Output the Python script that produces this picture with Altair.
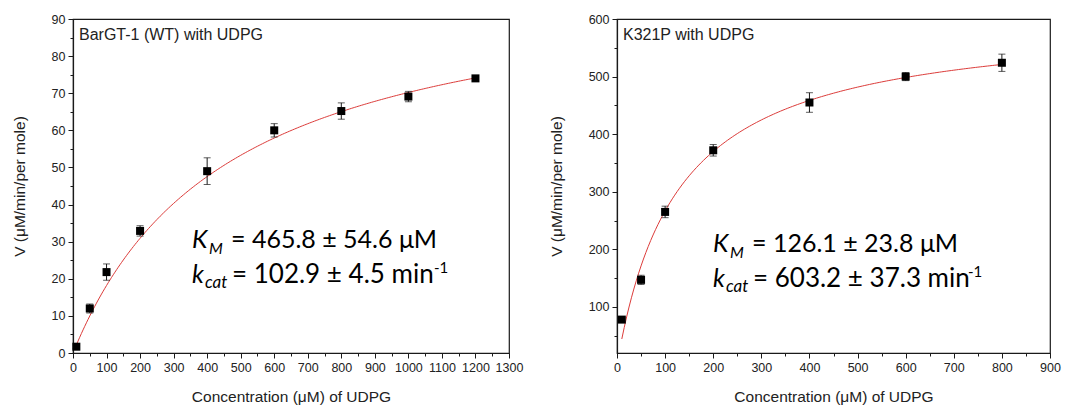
import altair as alt
import pandas as pd

# ---------------- data ----------------
WT_CONC = [10, 50, 100, 200, 400, 600, 800, 1000, 1200]
WT_V = [1.7, 12.0, 21.8, 32.9, 49.0, 60.0, 65.2, 69.1, 74.0]
WT_ERR = [0.5, 1.2, 2.2, 1.4, 3.6, 1.8, 2.2, 1.4, 0.5]

MUT_CONC = [10, 50, 100, 200, 400, 600, 800]
MUT_V = [78, 147, 265, 372, 455, 500, 524]
MUT_ERR = [3, 8, 10, 10, 17, 7, 15]

# Michaelis-Menten fit parameters printed on the chart
WT_KM, WT_VMAX = 465.8, 102.9
MUT_KM, MUT_VMAX = 126.1, 603.2

WT_X_TICKS = list(range(0, 1301, 50))
WT_Y_TICKS = list(range(0, 91, 5))
MUT_X_TICKS = list(range(0, 901, 50))
MUT_Y_TICKS = list(range(50, 601, 50))

WT_LABEL = "BarGT-1 (WT) with UDPG"
MUT_LABEL = "K321P with UDPG"
WT_ANN = ["= 465.8 \u00b1 54.6 \u03bcM", "= 102.9 \u00b1 4.5 min"]
MUT_ANN = ["= 126.1 \u00b1 23.8 \u03bcM", "= 603.2 \u00b1 37.3 min"]

X_TITLE = "Concentration (\u03bcM) of UDPG"
Y_TITLE = "V (\u03bcM/min/per mole)"

H = 334
AX_FONT = "Liberation Sans"
ANN_FONT = "Lato"
INK = "#1a1a1a"
FIT_RED = "#dc3c3a"


def make_axis(values, major, title, title_pad):
    test = f"datum.value % {major} === 0"
    return alt.Axis(
        values=values,
        format="d",
        labelExpr=f"{test} ? datum.label : ''",
        tickSize={"condition": {"test": test, "value": 5}, "value": 3},
        labelFlush=False,
        labelOverlap=False,
        grid=False,
        title=title,
        titlePadding=title_pad,
        labelFont=AX_FONT,
        labelFontSize=12.5,
        labelColor="#222",
        labelPadding=3,
        titleFont=AX_FONT,
        titleFontSize=15.5,
        titleFontWeight="normal",
        titleColor="#222",
        domainColor=INK,
        tickColor=INK,
        domainWidth=1.2,
        tickWidth=1,
    )


def panel(conc, v, err, km, vmax, xdom, ydom, xticks, yticks, ymajor,
          label, ann, ann_x, ann_y, sup_dx, width):
    df = pd.DataFrame({"c": conc, "v": v, "e": err})
    xs = alt.Scale(domain=xdom, nice=False, zero=False)
    ys = alt.Scale(domain=ydom, nice=False, zero=False)
    xax = make_axis(xticks, 100, X_TITLE, 16)
    yax = make_axis(yticks, ymajor, Y_TITLE, 24)

    def X(f):
        return alt.X(f, type="quantitative", scale=xs, axis=xax)

    def Y(f):
        return alt.Y(f, type="quantitative", scale=ys, axis=yax)

    base = alt.Chart(df).transform_calculate(
        lo="datum.v - datum.e", hi="datum.v + datum.e")

    fit = alt.Chart(alt.sequence(conc[0], conc[-1] + 1, 5, as_="c")).transform_calculate(
        v=f"{vmax} * datum.c / ({km} + datum.c)"
    ).mark_line(color=FIT_RED, strokeWidth=1, clip=True).encode(x=X("c"), y=Y("v"))

    stem = base.mark_rule(color=INK, strokeWidth=1).encode(
        x=X("c"), y=Y("lo"), y2="hi:Q")
    cap_lo = base.mark_tick(color=INK, orient="horizontal", size=7, thickness=1).encode(
        x=X("c"), y=Y("lo"))
    cap_hi = base.mark_tick(color=INK, orient="horizontal", size=7, thickness=1).encode(
        x=X("c"), y=Y("hi"))
    pts = base.mark_square(color="#000", opacity=1, size=64).encode(
        x=X("c"), y=Y("v"))

    one = alt.Data(values=[{}])
    lab = alt.Chart(one).mark_text(
        text=label, align="left", baseline="alphabetic", font=AX_FONT,
        fontSize=16, color="#222").encode(x=alt.value(6), y=alt.value(21))

    def t(text, dx, dy, size, style="normal"):
        return alt.Chart(one).mark_text(
            text=text, align="left", baseline="alphabetic", font=ANN_FONT,
            fontSize=size, fontStyle=style, color="#000"
        ).encode(x=alt.value(ann_x + dx), y=alt.value(ann_y + dy))

    texts = [
        t("K", 0, 0, 25, "italic"),
        t("M", 17, 6, 16, "italic"),
        t(ann[0], 39, 0, 25),
        t("k", 0, 35, 25, "italic"),
        t("cat", 13, 40, 17, "italic"),
        t(ann[1], 40, 35, 26),
        t("-1", sup_dx, 25, 15),
    ]

    return alt.layer(fit, stem, cap_lo, cap_hi, pts, lab, *texts).properties(
        width=width, height=H)


left = panel(WT_CONC, WT_V, WT_ERR, WT_KM, WT_VMAX, [0, 1300], [0, 90],
             WT_X_TICKS, WT_Y_TICKS, 10, WT_LABEL, WT_ANN, 119, 229, 242, 436)
right = panel(MUT_CONC, MUT_V, MUT_ERR, MUT_KM, MUT_VMAX, [0, 900], [20, 600],
              MUT_X_TICKS, MUT_Y_TICKS, 100, MUT_LABEL, MUT_ANN, 96, 233, 255, 433)

chart = alt.hconcat(left, right, spacing=24).properties(
    padding={"left": 11, "top": 12, "right": 5, "bottom": 0},
    background="white",
).configure_view(stroke=INK, strokeWidth=1.2)

chart.save("out.html", embed_options={"renderer": "svg", "actions": False})
